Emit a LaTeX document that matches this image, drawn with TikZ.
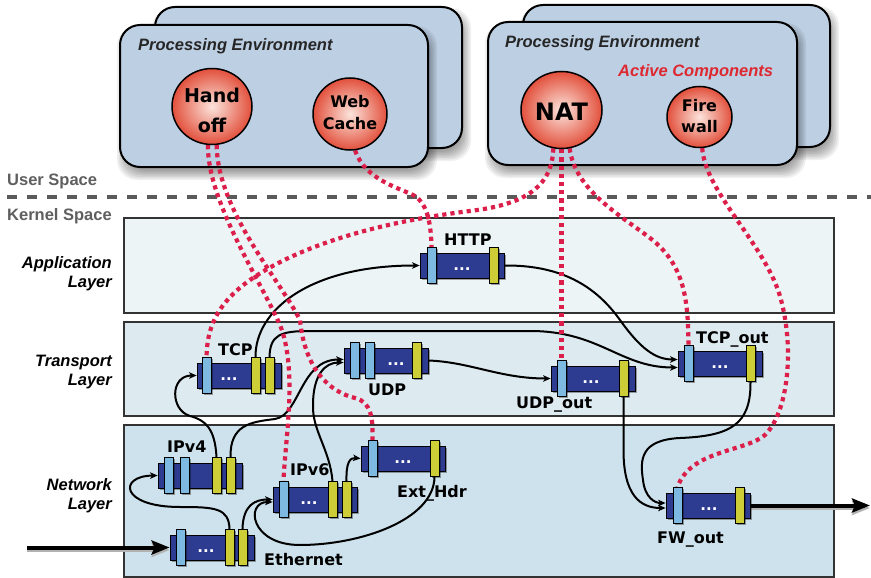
\documentclass[tikz,border=0pt]{standalone}
\usepackage{fontspec}
\newfontfamily\lsans{Liberation Sans}
\newfontfamily\dvs{DejaVu Sans}
\usetikzlibrary{shapes.geometric,arrows.meta,shadows}
\definecolor{envblue}{RGB}{189,207,227}
\definecolor{applay}{RGB}{237,244,246}
\definecolor{trlay}{RGB}{221,234,240}
\definecolor{netlay}{RGB}{205,226,236}
\definecolor{navy}{RGB}{45,60,145}
\definecolor{lbar}{RGB}{125,185,225}
\definecolor{ybar}{RGB}{205,205,55}
\definecolor{dotred}{RGB}{220,30,75}
\definecolor{ballred}{RGB}{226,80,60}
\definecolor{ballhi}{RGB}{252,228,220}
\definecolor{actred}{RGB}{222,40,48}
\definecolor{sepgray}{RGB}{90,90,90}
\definecolor{txtgray}{RGB}{95,95,95}
\pgfdeclarelayer{bg}
\pgfdeclarelayer{conn}
\pgfsetlayers{bg,conn,main}
\newcommand\mycomp[7]{%
  \node[compbody] (#1) at (#2+42,#3+12.5) {};
  \foreach \bo [count=\bi] in {#4} {\node[bluebar] (#1-b\bi) at (#2+\bo+4.5,#3+12.5) {};}
  \foreach \bo [count=\bi] in {#5} {\node[yelbar] (#1-y\bi) at (#2+\bo+4.5,#3+12.5) {};}
  \node[dotstext] (#1-d) at (#2+#6,#3+16) {#7};
}
\newcommand\softshadow[4]{%
  \foreach \e in {0,1.5,3,4.5,6,7.5,9} {\fill[black,opacity=0.06,rounded corners=20pt] (#1+6-\e,#2+10-\e) rectangle (#3+\e,#4+4+\e);}
}
\begin{document}
\begin{tikzpicture}[x=1pt,y=-1pt,
  shad/.style={drop shadow={shadow xshift=1.5pt,shadow yshift=-1.5pt,opacity=0.35,fill=black}},
  compbody/.style={draw=black,line width=0.8pt,fill=navy,minimum width=84pt,minimum height=25pt,inner sep=0pt,shad},
  bluebar/.style={draw=black,line width=0.7pt,fill=lbar,minimum width=9pt,minimum height=36pt,inner sep=0pt,shad},
  yelbar/.style={draw=black,line width=0.7pt,fill=ybar,minimum width=9pt,minimum height=36pt,inner sep=0pt,shad},
  dotstext/.style={text=white,font=\dvs\bfseries\fontsize{15}{15}\selectfont,inner sep=0pt},
  comlab/.style={font=\dvs\bfseries\fontsize{16}{19}\selectfont,anchor=base west,inner sep=0pt},
  laylab/.style={font=\lsans\bfseries\itshape\fontsize{16.5}{19}\selectfont,align=right,anchor=east,inner sep=0pt},
  envbox/.style={draw=black,line width=2pt,fill=envblue,rounded corners=20pt},
  envlab/.style={font=\lsans\bfseries\itshape\fontsize{16.5}{19}\selectfont,anchor=base west,inner sep=0pt,text=black!85},
  spacelab/.style={font=\lsans\bfseries\fontsize{16.5}{19}\selectfont,anchor=base west,inner sep=0pt,text=txtgray},
  layerbox/.style={draw=black!80,line width=1.3pt},
  ball/.style={ellipse,draw=black,line width=1.5pt,inner sep=0pt,inner color=ballhi,outer color=ballred},
  balltext/.style={align=center,inner sep=0pt},
  conn/.style={line width=2pt,-{Stealth[length=7.5pt,width=6.5pt,inset=2pt]}},
  bigarrow/.style={line width=4pt,-{Stealth[length=18pt,width=14pt,inset=3pt]}},
  reddot/.style={draw=dotred,line width=4.2pt,dash pattern=on 4.2pt off 4pt}
]
\useasboundingbox (0,0) rectangle (871,578);
\begin{pgfonlayer}{bg}
  \fill[white] (0,0) rectangle (871,578);
  \softshadow{155}{7}{462}{148}
  \draw[envbox] (155,7) rectangle (462,148);
  \softshadow{120}{25}{428}{167}
  \draw[envbox] (120,25) rectangle (428,167);
  \softshadow{523}{5}{830}{147}
  \draw[envbox] (523,5) rectangle (830,147);
  \softshadow{488}{22}{797}{165}
  \draw[envbox] (488,22) rectangle (797,165);
  \draw[line width=4pt,sepgray,dash pattern=on 10pt off 10pt] (7,197) -- (871,197);
  \draw[layerbox,fill=applay] (124,218) rectangle (834,313);
  \draw[layerbox,fill=trlay] (124,322) rectangle (834,416);
  \draw[layerbox,fill=netlay] (124,425) rectangle (834,577);
\end{pgfonlayer}

% active components
\node[ball,minimum width=80pt,minimum height=76pt] (handoff) at (212,106.5) {};
\node[balltext,font=\dvs\bfseries\fontsize{19}{30}\selectfont] (handoff-t) at (212,110) {Hand\\off};
\node[ball,minimum width=74pt,minimum height=72pt] (webcache) at (350,114) {};
\node[balltext,font=\dvs\bfseries\fontsize{16}{22}\selectfont] (webcache-t) at (350,113) {Web\\Cache};
\node[ball,minimum width=81pt,minimum height=77pt] (nat) at (561.5,110) {};
\node[balltext,font=\dvs\bfseries\fontsize{24}{26}\selectfont] (nat-t) at (561.5,111.5) {NAT};
\node[ball,minimum width=65pt,minimum height=61pt] (firewall) at (699.5,117) {};
\node[balltext,font=\dvs\bfseries\fontsize{16}{21}\selectfont] (firewall-t) at (699.5,116.5) {Fire\\wall};

\node[envlab] (pe1) at (138,51) {Processing Environment};
\node[envlab] (pe2) at (505,48) {Processing Environment};
\node[envlab,text=actred] (ac) at (618,77) {Active Components};
\node[spacelab] (us) at (7,185) {User Space};
\node[spacelab] (ks) at (7,220) {Kernel Space};
\node[laylab] (al) at (112,274) {Application\\Layer};
\node[laylab] (tl) at (112,372) {Transport\\Layer};
\node[laylab] (nl) at (112,496) {Network\\Layer};

% components
\mycomp{http}{420}{253}{7}{69}{42}{...}
\mycomp{tcp}{197}{363}{5}{54,68}{32}{...}
\mycomp{udp}{344}{348}{6,21}{68}{52}{...}
\mycomp{udpout}{551}{366}{6}{68}{40}{...}
\mycomp{tcpout}{678}{351}{6}{68}{42}{...}
\mycomp{ipv4}{158}{463}{6,22}{54,68}{40}{}
\mycomp{ipv6}{273}{487}{6}{55,69}{36}{...}
\mycomp{ext}{361}{446}{7}{69}{42}{...}
\mycomp{eth}{170}{535}{6}{55,68}{36}{...}
\mycomp{fw}{666}{493}{7}{69}{43}{...}

\node[comlab] (http-l) at (444,245) {HTTP};
\node[comlab] (tcp-l) at (218,355) {TCP};
\node[comlab] (udp-l) at (368,395) {UDP};
\node[comlab] (udpout-l) at (516,408) {UDP\_out};
\node[comlab] (tcpout-l) at (696,343) {TCP\_out};
\node[comlab] (ipv4-l) at (167,452) {IPv4};
\node[comlab] (ipv6-l) at (290,475) {IPv6};
\node[comlab] (ext-l) at (397,497) {Ext\_Hdr};
\node[comlab] (eth-l) at (264,565) {Ethernet};
\node[comlab] (fw-l) at (657,543) {FW\_out};

\begin{pgfonlayer}{conn}
  \coordinate (inpt) at (27,547.5);
  \coordinate (outpt) at (870,505.5);
  \draw[bigarrow,black!30] ([yshift=-2.5pt]inpt) -- ([yshift=-2.5pt]eth.west);
  \draw[bigarrow] (inpt) -- (eth.west);
  \draw[bigarrow,black!30] ([yshift=-2.5pt]fw.east) -- ([yshift=-2.5pt]outpt);
  \draw[bigarrow] (fw.east) -- (outpt);
  % black connectors
  \draw[conn] (eth-y1.north) .. controls (229,508) and (215,507) .. (180,507) .. controls (120,507) and (118,476) .. (ipv4.west);
  \draw[conn] (eth-y2.north) .. controls (243,505) and (255,499.5) .. (ipv6.west);
  \draw[conn] (ext-y1.south) .. controls (434,520) and (360,545) .. (300,545) .. controls (250,545) and (245,502) .. ([yshift=-2.5pt]ipv6.west);
  \draw[conn] (ipv6-y2.north) .. controls (346,462) and (350,457.5) .. (ext.west);
  \draw[conn] (ipv6-y1.north) .. controls (330,450) and (312,430) .. (313,405) .. controls (313,375) and (325,362.5) .. ([yshift=-2pt]udp.west);
  \draw[conn] (ipv4-y2.north) .. controls (230,425) and (250,422) .. (275,419) .. controls (300,415) and (300,359.5) .. ([yshift=1pt]udp.west);
  \draw[conn] (ipv4-y1.north) .. controls (215,428) and (205,420) .. (190,416) .. controls (170,410) and (170,375.5) .. (tcp.west);
  \draw[conn] (tcp-y1.north) .. controls (255,310) and (310,265.5) .. (http.west);
  \draw[conn] (tcp-y2.north) .. controls (270,335) and (280,331) .. (310,331) -- (530,331) .. controls (600,331) and (620,367.5) .. ([yshift=-4pt]tcpout.west);
  \draw[conn] (http.east) .. controls (560,265) and (595,285) .. (620,320) .. controls (640,348) and (655,359.5) .. ([yshift=4pt]tcpout.west);
  \draw[conn] (udp.east) .. controls (470,362) and (500,378.5) .. (udpout.west);
  \draw[conn] (udpout-y1.south) -- (623.5,450) .. controls (623.5,495) and (640,508) .. ([yshift=-2.5pt]fw.west);
  \draw[conn] (tcpout-y1.south) .. controls (751,425) and (730,436) .. (680,438) .. controls (640,440) and (640,460) .. (643,480) .. controls (645,498) and (655,503) .. ([yshift=2.5pt]fw.west);
  % red dotted links
  \draw[reddot] (handoff.-96) .. controls (207,200) and (260,280) .. (280,325) .. controls (298,370) and (285,440) .. (ipv6-b1.north);
  \draw[reddot] (handoff.-83) .. controls (217,210) and (280,280) .. (300,320) .. controls (305,370) and (330,392) .. (355,398) .. controls (372,402) and (373,420) .. (ext-b1.north);
  \draw[reddot] (webcache.-82) .. controls (365,180) and (400,188) .. (415,196) .. controls (428,205) and (431,225) .. (http-b1.north);
  \draw[reddot] (nat.-102) .. controls (552,190) and (520,205) .. (470,211) .. controls (380,222) and (300,245) .. (250,280) .. controls (215,305) and (207,330) .. (tcp-b1.north);
  \draw[reddot] (nat.south) -- (udpout-b1.north);
  \draw[reddot] (nat.-78) .. controls (575,190) and (620,215) .. (650,238) .. controls (685,265) and (688,300) .. (tcpout-b1.north);
  \draw[reddot] (firewall.-85) .. controls (705,190) and (760,240) .. (778,290) .. controls (795,340) and (790,410) .. (765,435) .. controls (745,452) and (690,450) .. (fw-b1.north);
\end{pgfonlayer}
\end{tikzpicture}
\end{document}
